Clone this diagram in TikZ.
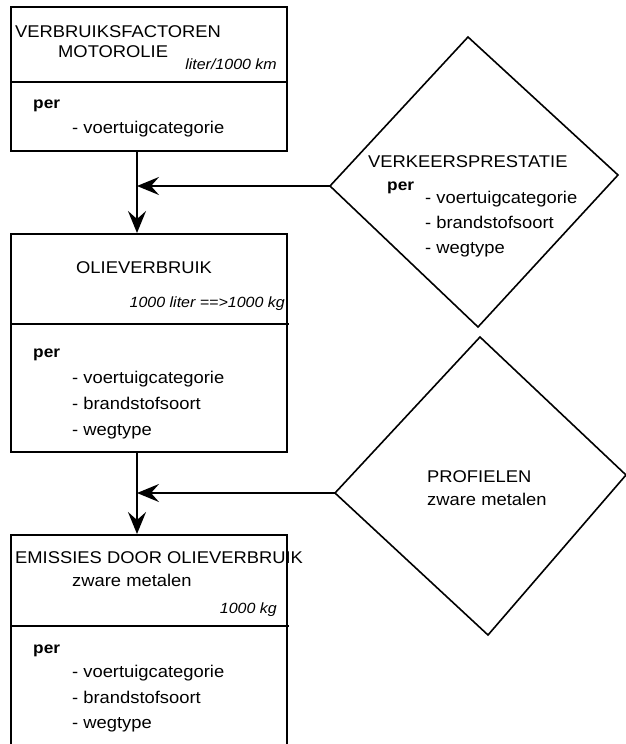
\documentclass[tikz,border=0pt]{standalone}
\usepackage{fontspec}
\setmainfont{Liberation Sans}[FakeStretch=1.08]
\usetikzlibrary{arrows.meta}
\begin{document}
\begin{tikzpicture}[x=1pt,y=-1pt,
  box/.style={draw, line width=1.8pt, minimum width=276pt, anchor=north west, inner sep=0pt},
  divl/.style={line width=1.8pt},
  dia/.style={draw, line width=1.6pt, line join=miter},
  txt/.style={anchor=base west, inner sep=0pt, font=\fontsize{17}{20}\selectfont},
  unit/.style={anchor=base east, inner sep=0pt, font=\fontsize{14.8}{17}\selectfont\itshape},
  perl/.style={anchor=base west, inner sep=0pt, font=\fontsize{16}{19}\selectfont\bfseries},
  flow/.style={line width=1.8pt, -{Stealth[length=22pt,width=18pt,inset=8pt]}}
]
\useasboundingbox (0,0) rectangle (626,744);
\clip (0,0) rectangle (626,744);

% boxes
\node[box, minimum height=144pt] (b1) at (10,6) {};
\node[box, minimum height=218pt] (b2) at (10,233) {};
\node[box, minimum height=240pt] (b3) at (10,534) {};
\draw[divl] (10,82) -- (287,82);
\draw[divl] (10,324) -- (289,324);
\draw[divl] (10,626) -- (289,626);

% box 1 texts
\node[txt] (t1a) at (15,37) {VERBRUIKSFACTOREN};
\node[txt] (t1b) at (58,57) {MOTOROLIE};
\node[unit] (t1c) at (277,69) {liter/1000 km};
\node[perl] (t1d) at (33,108) {per};
\node[txt] (t1e) at (72,133) {- voertuigcategorie};

% box 2 texts
\node[txt] (t2a) at (76,273) {OLIEVERBRUIK};
\node[unit] (t2b) at (285,307) {1000 liter ==>1000 kg};
\node[perl] (t2c) at (33,357) {per};
\node[txt] (t2d) at (72,383) {- voertuigcategorie};
\node[txt] (t2e) at (72,409) {- brandstofsoort};
\node[txt] (t2f) at (72,435) {- wegtype};

% box 3 texts
\node[txt] (t3a) at (15,563) {EMISSIES DOOR OLIEVERBRUIK};
\node[txt] (t3b) at (72,586) {zware metalen};
\node[unit] (t3c) at (277,613) {1000 kg};
\node[perl] (t3d) at (33,653) {per};
\node[txt] (t3e) at (72,677) {- voertuigcategorie};
\node[txt] (t3f) at (72,703) {- brandstofsoort};
\node[txt] (t3g) at (72,728) {- wegtype};

% diamond 1
\coordinate (d1n) at (468,37);
\coordinate (d1e) at (618,175);
\coordinate (d1s) at (478,327);
\coordinate (d1w) at (330,186);
\draw[dia] (d1n) -- (d1e) -- (d1s) -- (d1w) -- cycle;
\node[txt] (u1a) at (368,167) {VERKEERSPRESTATIE};
\node[perl] (u1b) at (387,190) {per};
\node[txt] (u1c) at (425,203) {- voertuigcategorie};
\node[txt] (u1d) at (425,228) {- brandstofsoort};
\node[txt] (u1e) at (425,253) {- wegtype};

% diamond 2
\coordinate (d2n) at (480,337);
\coordinate (d2e) at (626,475);
\coordinate (d2s) at (488,635);
\coordinate (d2w) at (335,493);
\draw[dia] (d2n) -- (d2e) -- (d2s) -- (d2w) -- cycle;
\node[txt] (u2a) at (427,482) {PROFIELEN};
\node[txt] (u2b) at (427,505) {zware metalen};

% connectors
\coordinate (j1) at (137,186);
\coordinate (j2) at (137,493);
\draw[line width=1.8pt] (b1.south -| j1) -- (j1);
\draw[flow] (j1) -- (b2.north -| j1);
\draw[flow] (d1w) -- (j1);
\draw[line width=1.8pt] (b2.south -| j2) -- (j2);
\draw[flow] (j2) -- (b3.north -| j2);
\draw[flow] (d2w) -- (j2);
\end{tikzpicture}
\end{document}
